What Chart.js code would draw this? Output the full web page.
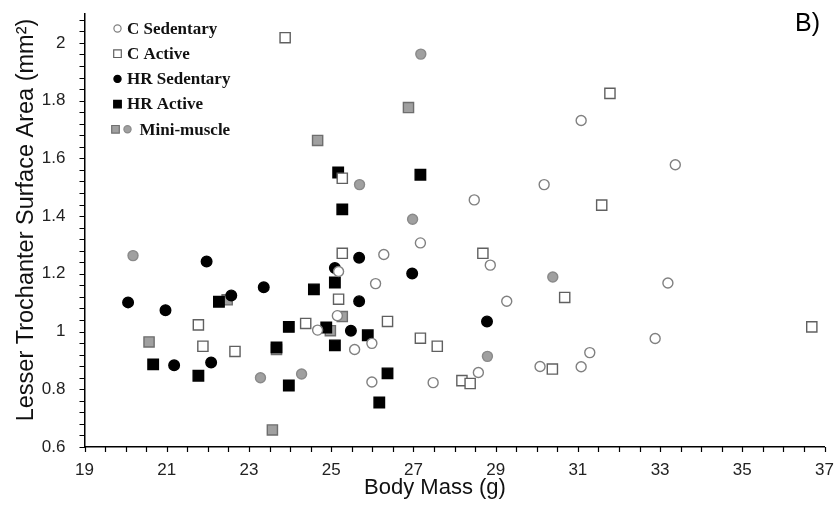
<!DOCTYPE html>
<html lang="en">
<head>
  <meta charset="UTF-8">
  <title>Lesser Trochanter Surface Area</title>
  <script src="https://cdn.jsdelivr.net/npm/chart.js"></script>
  <style>
    body { margin: 0; background: #fff; }
    .chartBox { width: 839px; height: 508px; }
  </style>
</head>
<body>
  <div class="chartBox">
    <canvas id="trochanterChart" width="839" height="508"></canvas>
  </div>

  <script>
    // Body mass (g) and lesser trochanter surface area (mm2) for each group
    const cSedMass = [24.67, 27.17, 28.48, 30.18, 26.28, 28.87, 25.18, 26.08, 29.27, 25.15, 25.99,
      25.57, 30.08, 28.58, 25.99, 27.48, 31.08, 33.37, 33.19, 32.88, 31.29, 31.08];
    const cSedArea = [1.005, 1.307, 1.456, 1.509, 1.267, 1.23, 1.208, 1.166, 1.105, 1.055, 0.959,
      0.938, 0.879, 0.858, 0.825, 0.823, 1.731, 1.578, 1.168, 0.976, 0.927, 0.878];

    const cActMass = [23.88, 21.77, 21.88, 22.66, 24.38, 25.27, 25.27, 28.69, 25.18, 26.37, 27.17,
      27.58, 28.18, 28.38, 31.78, 31.58, 30.68, 36.69, 30.38];
    const cActArea = [2.018, 1.023, 0.949, 0.931, 1.028, 1.531, 1.271, 1.271, 1.112, 1.035, 0.977,
      0.949, 0.83, 0.82, 1.825, 1.438, 1.118, 1.016, 0.87];

    const hrSedMass = [21.97, 20.06, 20.97, 22.08, 21.18, 22.57, 23.36, 25.68, 25.09, 26.97, 25.68, 25.48, 28.79];
    const hrSedArea = [1.243, 1.101, 1.074, 0.893, 0.883, 1.125, 1.153, 1.256, 1.22, 1.201, 1.105, 1.003, 1.035];

    const hrActMass = [22.27, 24.58, 20.67, 21.77, 23.97, 23.97, 23.67, 24.88, 25.17, 27.17, 25.27,
      25.09, 25.89, 25.09, 26.37, 26.17];
    const hrActArea = [1.103, 1.146, 0.886, 0.847, 0.813, 1.016, 0.945, 1.014, 1.551, 1.543, 1.423,
      1.17, 0.987, 0.952, 0.855, 0.754];

    const miniActMass = [20.57, 22.47, 23.67, 23.57, 24.67, 26.88, 25.27, 24.98];
    const miniActArea = [0.964, 1.11, 0.938, 0.659, 1.662, 1.776, 1.052, 1.003];

    const miniSedMass = [20.18, 23.28, 24.28, 27.18, 25.69, 26.98, 30.39, 28.8];
    const miniSedArea = [1.263, 0.84, 0.853, 1.961, 1.509, 1.389, 1.189, 0.914];

    const legendLabels = ['C Sedentary', 'C Active', 'HR Sedentary', 'HR Active', 'Mini-muscle'];

    function toPoints(xs, ys) {
      return xs.map((x, i) => ({ x: x, y: ys[i] }));
    }

    function group(label, xs, ys, style, fill, stroke, radius) {
      return {
        label: label,
        data: toPoints(xs, ys),
        pointStyle: style,
        pointRadius: radius,
        pointBackgroundColor: fill,
        pointBorderColor: stroke,
        pointBorderWidth: 1.4,
        showLine: false,
        clip: false
      };
    }

    // minor tick marks on both axes
    const minorTicks = {
      id: 'minorTicks',
      afterDraw(chart) {
        const ctx = chart.ctx;
        const xs = chart.scales.x, ys = chart.scales.y;
        const area = chart.chartArea;
        ctx.save();
        ctx.strokeStyle = '#000';
        ctx.lineWidth = 1.2;
        ctx.beginPath();
        for (let v = 19; v <= 37.001; v += 0.5) {
          const px = Math.round(xs.getPixelForValue(v)) + 0.5;
          ctx.moveTo(px, area.bottom);
          ctx.lineTo(px, area.bottom + 5);
        }
        for (let k = 0; k <= 37; k++) {
          const py = Math.round(ys.getPixelForValue(0.6 + k * 0.04)) + 0.5;
          ctx.moveTo(area.left - 5, py);
          ctx.lineTo(area.left, py);
        }
        ctx.stroke();
        ctx.restore();
      }
    };

    // axis titles and panel letter
    const titles = {
      id: 'titles',
      afterDraw(chart) {
        const ctx = chart.ctx;
        ctx.save();
        ctx.fillStyle = '#111';
        ctx.textAlign = 'center';
        ctx.textBaseline = 'middle';
        ctx.font = '22px "Liberation Sans", Arial, sans-serif';
        ctx.fillText('Body Mass (g)', 435, 488);

        ctx.font = '23.5px "Liberation Sans", Arial, sans-serif';
        ctx.translate(27, 220);
        ctx.rotate(-Math.PI / 2);
        ctx.fillText('Lesser Trochanter Surface Area (mm²)', 0, 0);
        ctx.restore();

        ctx.save();
        ctx.fillStyle = '#000';
        ctx.font = '25px "Liberation Sans", Arial, sans-serif';
        ctx.textAlign = 'left';
        ctx.textBaseline = 'alphabetic';
        ctx.fillText('B)', 795, 31);
        ctx.restore();
      }
    };

    function marker(ctx, style, x, y, fill, stroke) {
      ctx.fillStyle = fill;
      ctx.strokeStyle = stroke;
      ctx.lineWidth = 1.2;
      ctx.beginPath();
      if (style === 'circle') {
        ctx.arc(x, y, 3.6, 0, Math.PI * 2);
      } else {
        ctx.rect(x - 3.8, y - 3.8, 7.6, 7.6);
      }
      ctx.fill();
      ctx.stroke();
    }

    // legend in the top left corner of the plot
    const groupLegend = {
      id: 'groupLegend',
      afterDraw(chart) {
        const ctx = chart.ctx;
        const area = chart.chartArea;
        const mx = area.left + 33;
        ctx.save();
        ctx.font = 'bold 17px "Liberation Serif", "Times New Roman", serif';
        ctx.textBaseline = 'middle';
        ctx.textAlign = 'left';
        const marks = [
          ['circle', '#fff', '#808080'],
          ['rect', '#fff', '#606060'],
          ['circle', '#000', '#000'],
          ['rect', '#000', '#000']
        ];
        legendLabels.forEach((label, i) => {
          const y = area.top + 14.5 + i * 25.2;
          if (i < 4) {
            marker(ctx, marks[i][0], mx, y, marks[i][1], marks[i][2]);
            ctx.fillStyle = '#111';
            ctx.fillText(label, mx + 9.5, y + 1);
          } else {
            marker(ctx, 'rect', mx - 2, y, '#a0a0a0', '#707070');
            marker(ctx, 'circle', mx + 10, y, '#a0a0a0', '#8a8a8a');
            ctx.fillStyle = '#111';
            ctx.fillText(label, mx + 22, y + 1);
          }
        });
        ctx.restore();
      }
    };

    const ctx = document.getElementById('trochanterChart');
    new Chart(ctx, {
      type: 'scatter',
      data: {
        datasets: [
          group('C Sedentary', cSedMass, cSedArea, 'circle', '#fff', '#808080', 5),
          group('C Active', cActMass, cActArea, 'rect', '#fff', '#606060', 7.2),
          group('HR Sedentary', hrSedMass, hrSedArea, 'circle', '#000', '#000', 5.3),
          group('HR Active', hrActMass, hrActArea, 'rect', '#000', '#000', 7.4),
          group('Mini-muscle', miniActMass, miniActArea, 'rect', '#a0a0a0', '#6e6e6e', 7.2),
          group('Mini-muscle', miniSedMass, miniSedArea, 'circle', '#a0a0a0', '#8a8a8a', 5)
        ]
      },
      options: {
        responsive: false,
        animation: false,
        layout: { autoPadding: false, padding: { top: 14, right: 13, left: 0, bottom: 0 } },
        plugins: {
          legend: { display: false },
          tooltip: { enabled: false }
        },
        scales: {
          x: {
            type: 'linear',
            min: 19,
            max: 37,
            grid: { display: false },
            border: { display: true, color: '#000', width: 1.5 },
            ticks: {
              stepSize: 2,
              maxRotation: 0,
              padding: 5,
              color: '#222',
              font: { size: 17, family: '"Liberation Sans", Arial, sans-serif' }
            },
            afterFit: s => { s.height = 61; }
          },
          y: {
            min: 0.6,
            max: 2.1,
            grid: { display: false },
            border: { display: true, color: '#000', width: 1.5 },
            ticks: {
              stepSize: 0.2,
              padding: 11,
              color: '#222',
              font: { size: 17, family: '"Liberation Sans", Arial, sans-serif' },
              callback: v => String(+v.toFixed(2))
            },
            afterBuildTicks: s => { s.ticks = s.ticks.filter(t => t.value <= 2.0001); },
            afterFit: s => {
              s.width = 84.5;
              s.paddingTop = 0;
              s.paddingBottom = 0;
            }
          }
        }
      },
      plugins: [minorTicks, titles, groupLegend]
    });
  </script>
</body>
</html>
